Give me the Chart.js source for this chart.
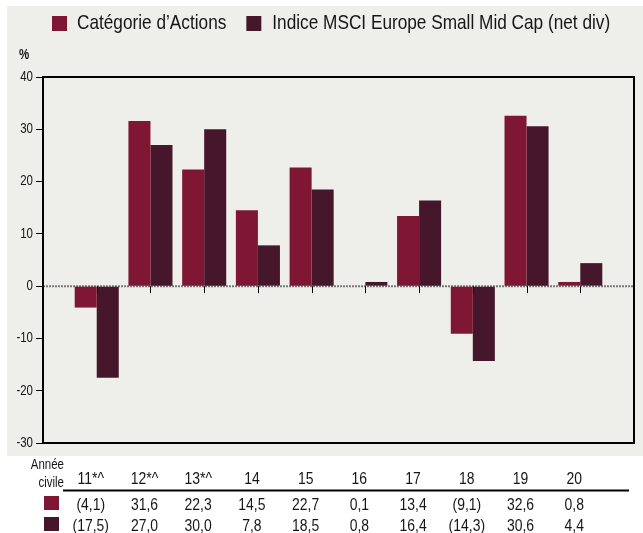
<!DOCTYPE html>
<html>
<head>
<meta charset="utf-8">
<script src="https://cdn.jsdelivr.net/npm/chart.js@4.4.1/dist/chart.umd.min.js"></script>
<style>
	html, body { margin: 0; padding: 0; background: #ffffff; }
	#wrap { width: 643px; height: 533px; position: relative; }
</style>
</head>
<body>
<div id="wrap"><canvas id="chart-performance"></canvas></div>
<script>
// Chart data
const YEARS = ["11*^", "12*^", "13*^", "14", "15", "16", "17", "18", "19", "20"];
const FUND = [-4.1, 31.6, 22.3, 14.5, 22.7, 0.1, 13.4, -9.1, 32.6, 0.8];
const INDEX = [-17.5, 27.0, 30.0, 7.8, 18.5, 0.8, 16.4, -14.3, 30.6, 4.4];
const Y_TICKS = [-30, -20, -10, 0, 10, 20, 30, 40];
const SERIES_NAMES = ["Catégorie d\u2019Actions", "Indice MSCI Europe Small Mid Cap (net div)"];

const COLOR_FUND = "#7f1734";
const COLOR_INDEX = "#46172a";
const BG_GREY = "#eeeeea";
const TEXT = "#161616";
const FONT = "'Liberation Sans', Arial, sans-serif";
const NARROW = 0.82; // squeeze Liberation Sans to look like Arial Narrow

const fmt = (v) => {
	const s = Math.abs(v).toFixed(1).replace(".", ",");
	return v < 0 ? "(" + s + ")" : s;
};

// empty slot at each end so the bars sit one step in from the frame
const pad = (arr) => [null, ...arr, null];

// draws condensed text, returns its width
const narrowText = (ctx, txt, x, y, align) => {
	ctx.save();
	ctx.translate(x, y);
	ctx.scale(NARROW, 1);
	ctx.textAlign = align || "left";
	ctx.fillText(txt, 0, 0);
	const w = ctx.measureText(txt).width * NARROW;
	ctx.restore();
	return w;
};

// Background, legend, zero line, frame, axis labels and the table underneath
const decorations = {
	id: "decorations",
	beforeDraw(chart) {
		const { ctx } = chart;
		ctx.save();
		ctx.fillStyle = BG_GREY;
		ctx.fillRect(7, 6, chart.width - 7, 450);
		ctx.restore();
	},
	beforeDatasetsDraw(chart) {
		const { ctx, chartArea } = chart;
		const y0 = chart.scales.y.getPixelForValue(0);
		ctx.save();
		ctx.strokeStyle = "#777777";
		ctx.lineWidth = 2;
		ctx.setLineDash([2, 1]);
		ctx.beginPath();
		ctx.moveTo(chartArea.left, y0);
		ctx.lineTo(chartArea.right, y0);
		ctx.stroke();
		ctx.restore();
	},
	afterDraw(chart) {
		const { ctx, chartArea } = chart;
		const x = chart.scales.x;
		const y = chart.scales.y;
		const y0 = y.getPixelForValue(0);

		ctx.save();
		ctx.textBaseline = "alphabetic";
		ctx.fillStyle = TEXT;

		// legend
		ctx.font = "21px " + FONT;
		ctx.fillStyle = COLOR_FUND;
		ctx.fillRect(52, 16, 15, 15);
		ctx.fillStyle = TEXT;
		const w1 = narrowText(ctx, SERIES_NAMES[0], 77, 28.5);
		const sq2 = 77 + w1 + 20;
		ctx.fillStyle = COLOR_INDEX;
		ctx.fillRect(sq2, 16, 15, 15);
		ctx.fillStyle = TEXT;
		narrowText(ctx, SERIES_NAMES[1], sq2 + 26, 28.5);

		// y tick labels
		ctx.font = "14px " + FONT;
		ctx.textBaseline = "middle";
		Y_TICKS.forEach((v) => {
			narrowText(ctx, String(v), 33, y.getPixelForValue(v), "right");
		});

		// % unit
		ctx.font = "bold 14px " + FONT;
		narrowText(ctx, "%", 19, 55);
		ctx.textBaseline = "alphabetic";

		// x ticks under the zero line
		ctx.strokeStyle = "#000";
		ctx.lineWidth = 1;
		YEARS.forEach((_, i) => {
			const px = Math.round(x.getPixelForValue(i + 1)) + 0.5;
			ctx.beginPath();
			ctx.moveTo(px, y0);
			ctx.lineTo(px, y0 + 7);
			ctx.stroke();
		});

		// plot frame
		ctx.lineWidth = 2;
		ctx.strokeRect(chartArea.left, chartArea.top, chartArea.right - chartArea.left, chartArea.bottom - chartArea.top);

		// table
		ctx.font = "14px " + FONT;
		narrowText(ctx, "Année", 64, 469, "right");
		narrowText(ctx, "civile", 64, 487, "right");

		ctx.font = "17px " + FONT;
		YEARS.forEach((lbl, i) => {
			const cx = x.getPixelForValue(i + 1) - 6;
			narrowText(ctx, lbl, cx, 484, "center");
			narrowText(ctx, fmt(FUND[i]), cx, 509.5, "center");
			narrowText(ctx, fmt(INDEX[i]), cx, 531, "center");
		});

		ctx.lineWidth = 2;
		ctx.beginPath();
		ctx.moveTo(63, 490.5);
		ctx.lineTo(629, 490.5);
		ctx.stroke();

		ctx.fillStyle = COLOR_FUND;
		ctx.fillRect(44, 496, 15, 14);
		ctx.fillStyle = COLOR_INDEX;
		ctx.fillRect(44, 517, 15, 14);

		ctx.restore();
	},
};

const CHART_DATA = {
	labels: pad(YEARS),
	datasets: [
		{
			label: SERIES_NAMES[0],
			data: pad(FUND),
			backgroundColor: COLOR_FUND,
			borderWidth: 0,
			categoryPercentage: 0.82,
			barPercentage: 1,
		},
		{
			label: SERIES_NAMES[1],
			data: pad(INDEX),
			backgroundColor: COLOR_INDEX,
			borderWidth: 0,
			categoryPercentage: 0.82,
			barPercentage: 1,
		},
	],
};

const CHART_CONFIG = {
	type: "bar",
	data: CHART_DATA,
	options: {
		responsive: true,
		maintainAspectRatio: false,
		animation: false,
		layout: {
			padding: { top: 77, left: 0, right: 9, bottom: 90 },
		},
		plugins: {
			legend: { display: false },
			tooltip: { enabled: false },
		},
		scales: {
			x: {
				type: "category",
				display: false,
				offset: false,
			},
			y: {
				min: -30,
				max: 40,
				afterFit(scale) {
					scale.width = 43;
				},
				afterBuildTicks(scale) {
					scale.ticks = Y_TICKS.map((v) => ({ value: v }));
				},
				border: { display: false },
				grid: {
					drawOnChartArea: false,
					drawTicks: true,
					tickLength: 7,
					tickColor: "#000",
					tickWidth: 1,
				},
				ticks: {
					display: false,
				},
			},
		},
	},
	plugins: [decorations],
};

new Chart(document.getElementById("chart-performance"), CHART_CONFIG);
</script>
</body>
</html>
